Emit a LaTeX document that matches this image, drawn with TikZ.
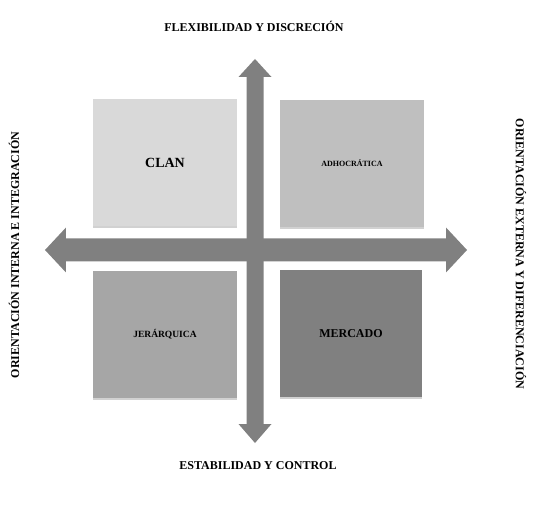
\documentclass[tikz,border=0pt]{standalone}
\usepackage{fontspec}
\setmainfont{Liberation Serif}
\usetikzlibrary{shadows}
\definecolor{clangray}{HTML}{D9D9D9}
\definecolor{adhocgray}{HTML}{BFBFBF}
\definecolor{jergray}{HTML}{A6A6A6}
\definecolor{mercgray}{HTML}{808080}
\definecolor{axisgray}{HTML}{808080}
\tikzset{
  quad/.style={minimum width=144pt, minimum height=127pt, inner sep=0pt,
    general shadow={shadow yshift=-2pt, fill=black!18}},
  axislabel/.style={font=\bfseries\fontsize{12}{14}\selectfont, inner sep=0pt}
}
\begin{document}
\begin{tikzpicture}[x=1pt,y=1pt]
	\useasboundingbox (-255,250) rectangle (280,-255);
	% cuadrantes
	\node[quad, fill=clangray] (clan) at (-90,87.5) {\bfseries\fontsize{14}{16}\selectfont CLAN};
	\node[quad, fill=adhocgray] (adhoc) at (97,86.5) {\bfseries\fontsize{8}{10}\selectfont ADHOCRÁTICA};
	\node[quad, fill=jergray] (jer) at (-90,-84.5) {\bfseries\fontsize{9.5}{11}\selectfont JERÁRQUICA};
	\node[quad, fill=mercgray, minimum width=142pt] (merc) at (96,-83.5) {\bfseries\fontsize{12}{14}\selectfont MERCADO};
	% ejes
	\fill[axisgray] (-210,0)--(-189,22.5)--(-189,11.5)--(191,11.5)--(191,22.5)--(212,0)
		--(191,-22.5)--(191,-11.5)--(-189,-11.5)--(-189,-22.5)--cycle;
	\fill[axisgray] (0,191)--(16.5,173)--(8.5,173)--(8.5,-174)--(16.5,-174)--(0,-193)
		--(-16.5,-174)--(-8.5,-174)--(-8.5,173)--(-16.5,173)--cycle;
	% etiquetas
	\node[axislabel] (top) at (-1,224) {FLEXIBILIDAD Y DISCRECIÓN};
	\node[axislabel] (bottom) at (3,-216) {ESTABILIDAD Y CONTROL};
	\node[axislabel, rotate=90] (left) at (-241,-5) {ORIENTACIÓN INTERNA E INTEGRACIÓN};
	\node[axislabel, rotate=-90] (right) at (266,-4) {ORIENTACIÓN EXTERNA Y DIFERENCIACIÓN};
\end{tikzpicture}
\end{document}
